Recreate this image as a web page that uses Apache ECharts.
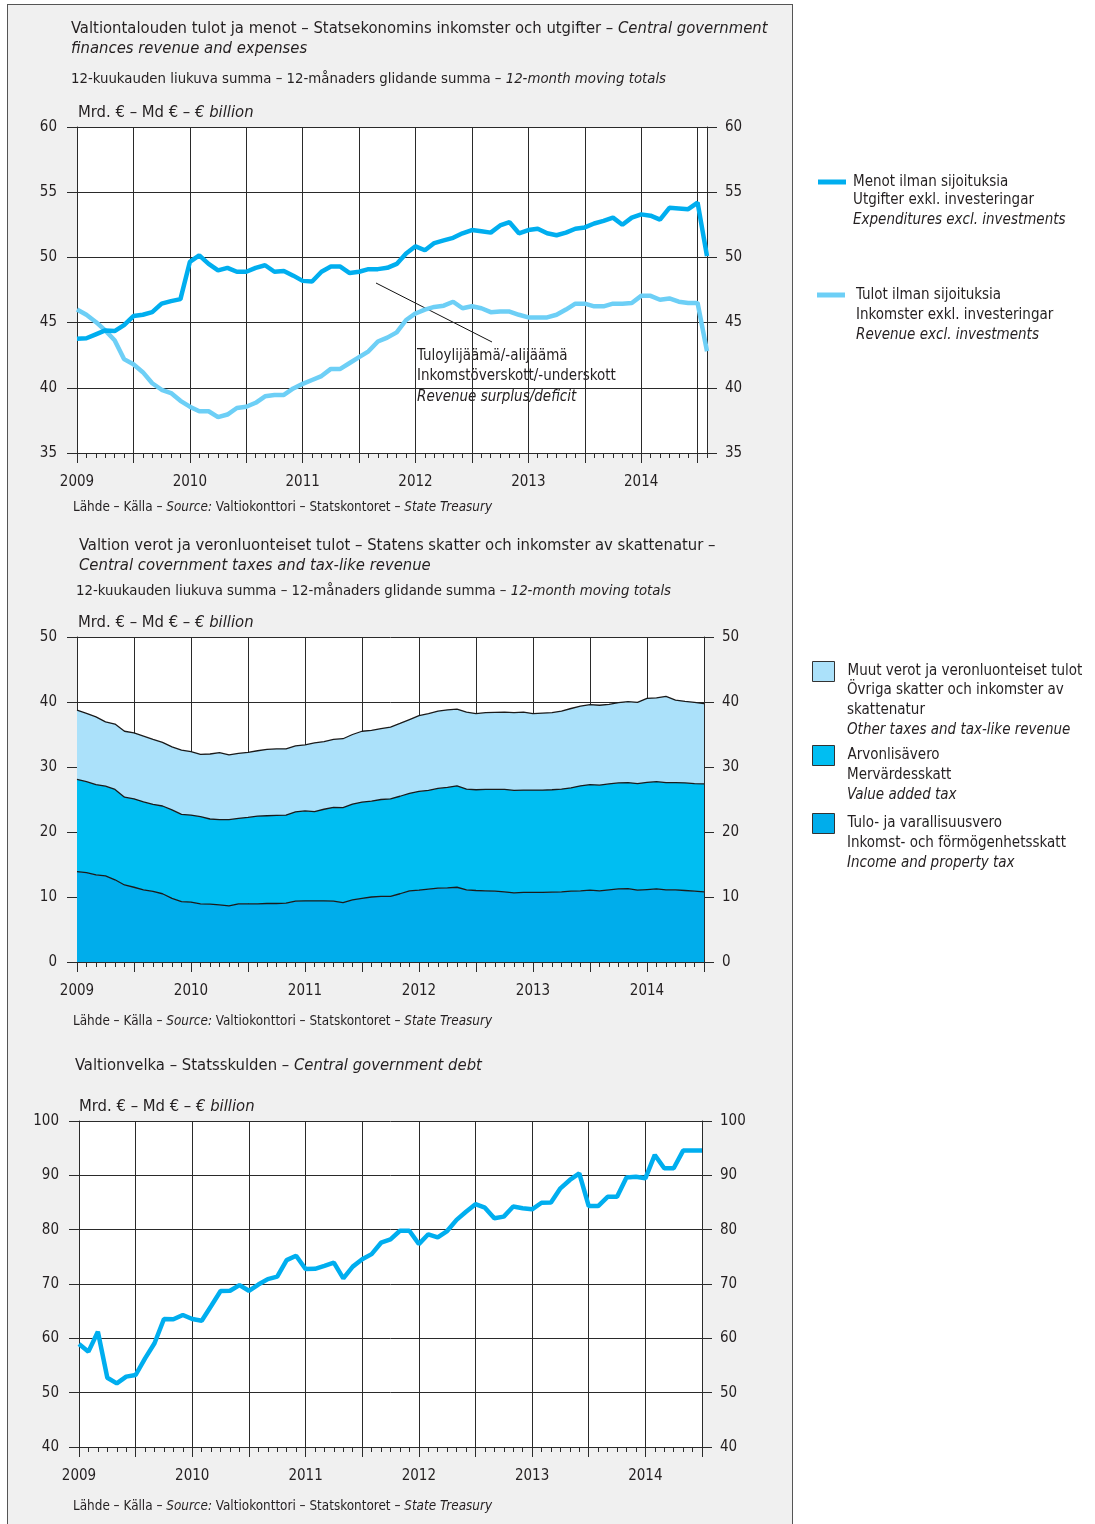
<!DOCTYPE html>
<html>
<head>
<meta charset="utf-8">
<script src="https://cdn.jsdelivr.net/npm/echarts@6/dist/echarts.min.js"></script>
<style>
  html, body { margin: 0; padding: 0; background: #ffffff; }
  #panel { position: absolute; left: 7px; top: 4px; width: 784px; height: 1530px; background: #f0f0f0; border-left: 1px solid #555; border-top: 1px solid #555; border-right: 1px solid #555; }
  #chart { position: absolute; left: 0; top: 0; width: 1095px; height: 1524px; }
</style>
</head>
<body>
<div id="panel"></div>
<div id="chart"></div>
<script>
// ---------- DATA ----------
const years = ['2009', '2010', '2011', '2012', '2013', '2014'];

// Chart 1: 12-month moving totals, Jan 2009 .. Aug 2014 (EUR billion)
const expenditures = [
  43.76, 43.8, 44.1, 44.4, 44.35, 44.8, 45.5, 45.6, 45.8, 46.45, 46.65, 46.8,
  49.65, 50.15, 49.5, 49.0, 49.2, 48.9, 48.9, 49.2, 49.4, 48.9, 48.95, 48.6,
  48.2, 48.15, 48.9, 49.3, 49.3, 48.8, 48.9, 49.1, 49.1, 49.2, 49.5, 50.3,
  50.85, 50.55, 51.1, 51.3, 51.5, 51.85, 52.1, 52.0, 51.9, 52.45, 52.7, 51.85,
  52.1, 52.2, 51.85, 51.7, 51.9, 52.2, 52.3, 52.6, 52.8, 53.05, 52.5, 53.05,
  53.3, 53.2, 52.9, 53.8, 53.75, 53.7, 54.2, 50.1
];
const revenue = [
  46.0, 45.6, 45.05, 44.4, 43.65, 42.2, 41.8, 41.2, 40.35, 39.85, 39.6, 39.0,
  38.55, 38.2, 38.2, 37.75, 37.95, 38.45, 38.55, 38.85, 39.35, 39.45, 39.45, 39.95,
  40.3, 40.6, 40.9, 41.45, 41.45, 41.9, 42.35, 42.8, 43.55, 43.85, 44.25, 45.2,
  45.7, 46.0, 46.2, 46.3, 46.6, 46.1, 46.25, 46.1, 45.8, 45.85, 45.85, 45.6,
  45.4, 45.4, 45.4, 45.6, 46.0, 46.45, 46.45, 46.25, 46.25, 46.45, 46.45, 46.5,
  47.05, 47.05, 46.75, 46.85, 46.6, 46.5, 46.5, 42.8
];

// Chart 2: stacked layers, Jan 2009 .. Jul 2014 (EUR billion)
const incomeTax = [
  13.9, 13.75, 13.4, 13.25, 12.65, 11.85, 11.5, 11.1, 10.85, 10.5, 9.8, 9.3,
  9.2, 8.95, 8.9, 8.8, 8.65, 8.95, 8.95, 8.95, 9.0, 9.0, 9.05, 9.35,
  9.4, 9.4, 9.4, 9.35, 9.15, 9.55, 9.8, 10.0, 10.1, 10.1, 10.5, 10.95,
  11.05, 11.2, 11.35, 11.4, 11.5, 11.1, 11.0, 10.95, 10.9, 10.8, 10.65, 10.7,
  10.7, 10.7, 10.75, 10.8, 10.9, 10.95, 11.05, 10.95, 11.1, 11.25, 11.3, 11.05,
  11.15, 11.25, 11.1, 11.1, 11.0, 10.9, 10.8
];
const vat = [
  14.2, 14.0, 13.9, 13.8, 13.9, 13.5, 13.6, 13.55, 13.4, 13.5, 13.6, 13.4,
  13.4, 13.4, 13.1, 13.1, 13.25, 13.15, 13.3, 13.5, 13.5, 13.55, 13.55, 13.75,
  13.85, 13.75, 14.1, 14.45, 14.6, 14.75, 14.8, 14.75, 14.9, 15.0, 15.0, 15.0,
  15.2, 15.2, 15.35, 15.45, 15.6, 15.5, 15.5, 15.6, 15.65, 15.75, 15.75, 15.75,
  15.75, 15.75, 15.75, 15.8, 15.9, 16.15, 16.25, 16.25, 16.3, 16.3, 16.3, 16.4,
  16.5, 16.5, 16.5, 16.5, 16.55, 16.55, 16.6
];
const otherTaxes = [
  10.65, 10.5, 10.4, 9.9, 10.05, 10.15, 10.15, 10.1, 10.0, 9.8, 9.7, 9.9,
  9.75, 9.6, 10.0, 10.3, 9.95, 10.0, 10.0, 10.05, 10.2, 10.25, 10.2, 10.15,
  10.15, 10.55, 10.4, 10.45, 10.6, 10.7, 10.9, 10.9, 10.9, 11.05, 11.2, 11.35,
  11.65, 11.8, 11.9, 11.95, 11.8, 11.85, 11.7, 11.8, 11.85, 11.9, 11.95, 12.0,
  11.75, 11.85, 11.85, 12.0, 12.2, 12.25, 12.3, 12.3, 12.25, 12.35, 12.45, 12.5,
  12.9, 12.9, 13.25, 12.7, 12.55, 12.5, 12.35
];

// Chart 3: central government debt, Jan 2009 .. Jul 2014 (EUR billion)
const debt = [
  58.95, 57.55, 61.2, 52.75, 51.7, 52.95, 53.25, 56.3, 59.1, 63.55, 63.5, 64.3,
  63.55, 63.25, 65.95, 68.7, 68.75, 69.8, 68.75, 69.9, 70.9, 71.35, 74.4, 75.2,
  72.75, 72.8, 73.35, 73.95, 71.05, 73.2, 74.55, 75.5, 77.6, 78.2, 79.8, 79.8,
  77.35, 79.15, 78.6, 79.75, 81.8, 83.3, 84.7, 84.05, 82.1, 82.4, 84.25, 83.95,
  83.75, 84.95, 85.0, 87.6, 89.15, 90.35, 84.35, 84.35, 86.05, 86.05, 89.6, 89.75,
  89.45, 93.75, 91.3, 91.3, 94.55, 94.55, 94.55
];

// Y tick labels
const yTicks1 = [35, 40, 45, 50, 55, 60];
const yTicks2 = [0, 10, 20, 30, 40, 50];
const yTicks3 = [40, 50, 60, 70, 80, 90, 100];

// Series names (legend, first line)
const names1 = ['Menot ilman sijoituksia', 'Tulot ilman sijoituksia'];
const names2 = ['Muut verot ja veronluonteiset tulot', 'Arvonlisävero', 'Tulo- ja varallisuusvero'];
const names3 = ['Valtionvelka'];

// ---------- BUILD ----------
function monthCats(n) {
  const out = [];
  for (let i = 0; i < n; i++) out.push(years[Math.floor(i / 12)] + '-' + String(i % 12 + 1).padStart(2, '0'));
  return out;
}
const cats1 = monthCats(expenditures.length);
const cats2 = monthCats(incomeTax.length);
const cats3 = monthCats(debt.length);

const FONT = '"Liberation Sans Narrow", "DejaVu Sans Condensed", "Roboto Condensed", "Liberation Sans", sans-serif';
const TXT = '#231f20';
const GRIDC = '#2a2a2a';
const C_DARK = '#00aeef';
const C_LIGHT = '#6dcff6';
const C_L1 = '#00adeb';
const C_L2 = '#00bef2';
const C_L3 = '#abe1fa';
const TICKFS = 15;
const LEGFS = 15;

const grids = [
  { left: 77, top: 127, width: 630, height: 326 },
  { left: 77, top: 637, width: 627, height: 325 },
  { left: 79, top: 1121, width: 623, height: 326 }
].map(g => Object.assign({ show: true, backgroundColor: '#ffffff', borderWidth: 0, containLabel: false }, g));

function xAxes(gi, cats) {
  return [
    {
      type: 'category', gridIndex: gi, data: cats, boundaryGap: false, position: 'bottom',
      axisLine: { show: true, lineStyle: { color: GRIDC, width: 1 } },
      axisTick: { show: true, interval: 0, length: 5, lineStyle: { color: GRIDC, width: 1 } },
      axisLabel: {
        show: true, interval: (i) => i % 12 === 0, formatter: (v) => v.slice(0, 4),
        margin: 22, fontSize: TICKFS, color: TXT, fontFamily: FONT
      },
      splitLine: { show: false }
    },
    {
      type: 'category', gridIndex: gi, data: cats, boundaryGap: false, position: 'bottom',
      axisLine: { show: false },
      axisTick: { show: true, interval: (i) => i % 6 === 0, length: 10, lineStyle: { color: GRIDC, width: 1 } },
      axisLabel: { show: false },
      splitLine: { show: true, interval: (i) => i % 6 === 0, lineStyle: { color: GRIDC, width: 1 } }
    }
  ];
}
function yAxes(gi, ticks) {
  const base = {
    type: 'value', gridIndex: gi,
    min: ticks[0], max: ticks[ticks.length - 1], interval: ticks[1] - ticks[0],
    axisLine: { show: true, lineStyle: { color: GRIDC, width: 1 } },
    axisTick: { show: true, length: 10, lineStyle: { color: GRIDC, width: 1 } }
  };
  return [
    Object.assign({}, base, {
      position: 'left',
      axisLabel: { margin: 20, fontSize: TICKFS, color: TXT, fontFamily: FONT },
      splitLine: { show: true, lineStyle: { color: GRIDC, width: 1 } }
    }),
    Object.assign({}, base, {
      position: 'right',
      axisLabel: { margin: 18, fontSize: TICKFS, color: TXT, fontFamily: FONT },
      splitLine: { show: false }
    })
  ];
}

function T(x, y, text, size, extra) {
  return Object.assign({
    type: 'text', x: x, y: y, silent: true,
    style: {
      text: text, fill: TXT, fontSize: size, fontFamily: FONT,
      align: 'left', verticalAlign: 'middle',
      rich: { i: { fontStyle: 'italic', fontSize: size, fontFamily: FONT, fill: TXT } }
    }
  }, extra || {});
}

const src = 'Lähde – Källa – {i|Source:} Valtiokonttori – Statskontoret – {i|State Treasury}';
const unit = 'Mrd. € – Md € – {i|€ billion}';
const sub = '12-kuukauden liukuva summa – 12-månaders glidande summa – {i|12-month moving totals}';
const TITLEFS = 16.5, SUBFS = 14.8, UNITFS = 16.5, SRCFS = 13.4;

const graphics = [
  // Chart 1 texts
  T(71, 29, 'Valtiontalouden tulot ja menot – Statsekonomins inkomster och utgifter – {i|Central government}', TITLEFS),
  T(71, 49, '{i|finances revenue and expenses}', TITLEFS),
  T(71, 79, sub, SUBFS),
  T(78, 113, unit, UNITFS),
  T(73, 508, src, SRCFS),
  // annotation
  { type: 'line', silent: true, shape: { x1: 376, y1: 283, x2: 492, y2: 342 }, style: { stroke: '#111', lineWidth: 1 } },
  T(417, 356, 'Tuloylijäämä/-alijäämä', LEGFS),
  T(417, 376, 'Inkomstöverskott/-underskott', LEGFS),
  T(417, 397, '{i|Revenue surplus/deficit}', LEGFS),
  // Chart 2 texts
  T(79, 546, 'Valtion verot ja veronluonteiset tulot – Statens skatter och inkomster av skattenatur –', TITLEFS),
  T(79, 566, '{i|Central covernment taxes and tax-like revenue}', TITLEFS),
  T(76, 591, sub, SUBFS),
  T(78, 623, unit, UNITFS),
  T(73, 1022, src, SRCFS),
  // Chart 3 texts
  T(75, 1066, 'Valtionvelka – Statsskulden – {i|Central government debt}', TITLEFS),
  T(79, 1107, unit, UNITFS),
  T(73, 1507, src, SRCFS),
  // legend continuation lines
  T(853, 200, 'Utgifter exkl. investeringar', LEGFS),
  T(853, 220, '{i|Expenditures excl. investments}', LEGFS),
  T(856, 315, 'Inkomster exkl. investeringar', LEGFS),
  T(856, 335, '{i|Revenue excl. investments}', LEGFS),
  T(847, 690, 'Övriga skatter och inkomster av', LEGFS),
  T(847, 710, 'skattenatur', LEGFS),
  T(847, 730, '{i|Other taxes and tax-like revenue}', LEGFS),
  T(847, 775, 'Mervärdesskatt', LEGFS),
  T(847, 795, '{i|Value added tax}', LEGFS),
  T(847, 843, 'Inkomst- och förmögenhetsskatt', LEGFS),
  T(847, 863, '{i|Income and property tax}', LEGFS)
];

function legend(name, left, top, color, w, h, border, pad) {
  return {
    data: [name], left: left, top: top, padding: 0, icon: 'rect', selectedMode: false,
    itemWidth: w, itemHeight: h,
    itemStyle: { color: color, borderColor: border ? '#333' : color, borderWidth: border ? 1 : 0 },
    textStyle: { fontSize: LEGFS, lineHeight: 20, color: TXT, fontFamily: FONT, padding: pad }
  };
}

const option = {
  animation: false,
  backgroundColor: 'transparent',
  grid: grids,
  xAxis: [].concat(xAxes(0, cats1), xAxes(1, cats2), xAxes(2, cats3)),
  yAxis: [].concat(yAxes(0, yTicks1), yAxes(1, yTicks2), yAxes(2, yTicks3)),
  legend: [
    legend(names1[0], 818, 172, C_DARK, 28, 5, false, [0, 0, 0, 2]),
    legend(names1[1], 817, 285, C_LIGHT, 28, 5, false, [0, 0, 0, 6]),
    legend(names2[0], 812, 661, C_L3, 22, 20, true, [0, 0, 0, 8]),
    legend(names2[1], 812, 745, C_L2, 22, 20, true, [0, 0, 0, 8]),
    legend(names2[2], 812, 813, C_L1, 22, 20, true, [0, 0, 0, 8])
  ],
  graphic: graphics,
  series: [
    {
      type: 'line', name: names1[1], xAxisIndex: 0, yAxisIndex: 0, data: revenue,
      showSymbol: false, symbol: 'none', lineStyle: { color: C_LIGHT, width: 4.5 }, itemStyle: { color: C_LIGHT }, z: 3
    },
    {
      type: 'line', name: names1[0], xAxisIndex: 0, yAxisIndex: 0, data: expenditures,
      showSymbol: false, symbol: 'none', lineStyle: { color: C_DARK, width: 4.5 }, itemStyle: { color: C_DARK }, z: 4
    },
    {
      type: 'line', name: names2[2], xAxisIndex: 2, yAxisIndex: 2, data: incomeTax, stack: 'tax',
      showSymbol: false, symbol: 'none', lineStyle: { color: '#1a1a1a', width: 1.3 },
      areaStyle: { color: C_L1, opacity: 1 }, itemStyle: { color: C_L1 }, z: 6
    },
    {
      type: 'line', name: names2[1], xAxisIndex: 2, yAxisIndex: 2, data: vat, stack: 'tax',
      showSymbol: false, symbol: 'none', lineStyle: { color: '#1a1a1a', width: 1.3 },
      areaStyle: { color: C_L2, opacity: 1 }, itemStyle: { color: C_L2 }, z: 5
    },
    {
      type: 'line', name: names2[0], xAxisIndex: 2, yAxisIndex: 2, data: otherTaxes, stack: 'tax',
      showSymbol: false, symbol: 'none', lineStyle: { color: '#1a1a1a', width: 1.3 },
      areaStyle: { color: C_L3, opacity: 1 }, itemStyle: { color: C_L3 }, z: 4
    },
    {
      type: 'line', name: names3[0], xAxisIndex: 4, yAxisIndex: 4, data: debt,
      showSymbol: false, symbol: 'none', lineStyle: { color: C_DARK, width: 4.5 }, itemStyle: { color: C_DARK }, z: 4
    }
  ]
};

const chart = echarts.init(document.getElementById('chart'), null, { renderer: 'canvas', width: 1095, height: 1524 });
chart.setOption(option);
</script>
</body>
</html>
